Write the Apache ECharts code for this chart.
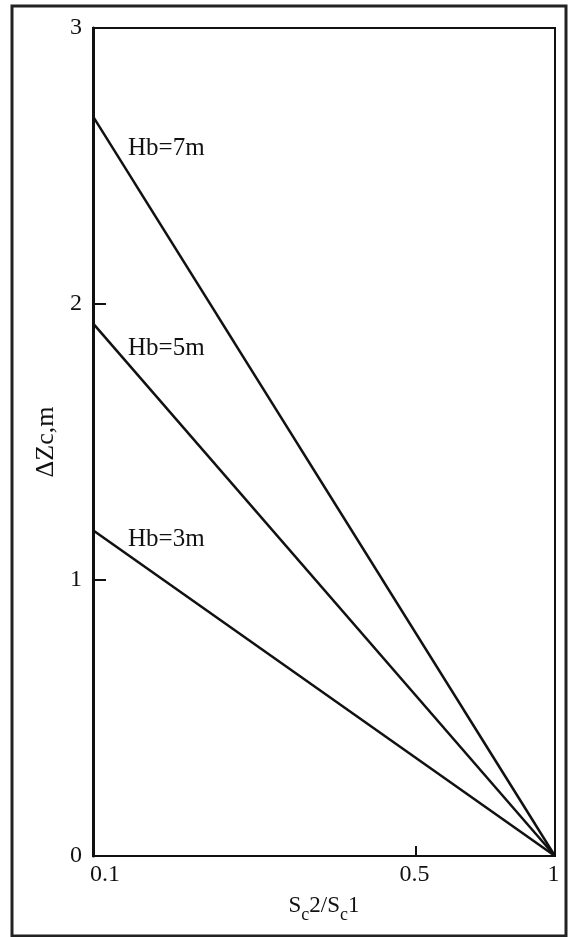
<!DOCTYPE html>
<html>
<head>
<meta charset="utf-8">
<script src="https://cdn.jsdelivr.net/npm/echarts@6/dist/echarts.min.js"></script>
<style>
  html, body { margin: 0; padding: 0; background: #fff; }
  #chart { width: 568px; height: 937px; }
</style>
</head>
<body>
<div id="chart"></div>
<script>
// Ratio Sc2/Sc1 at the two ends of each line (log axis)
const ratioValues = [0.1, 1];
// Channel-bed lowering ΔZc (m) for each breakwater height
const seriesNames = ['Hb=7m', 'Hb=5m', 'Hb=3m'];
const dzHb7 = [2.68, 0];
const dzHb5 = [1.93, 0];
const dzHb3 = [1.18, 0];
// Tick labels
const xTickValues = [0.1, 0.5, 1];
const yTickValues = [0, 1, 2, 3];

const serif = '"Liberation Serif", "DejaVu Serif", serif';
const ink = '#111';

function pairs(ys) {
  return ratioValues.map((x, i) => [x, ys[i]]);
}

const chart = echarts.init(document.getElementById('chart'), null, { renderer: 'canvas' });

const option = {
  backgroundColor: '#fff',
  animation: false,
  grid: {
    left: 93, right: 13, top: 28, bottom: 81,
    show: true, borderColor: ink, borderWidth: 2, backgroundColor: 'transparent'
  },
  xAxis: {
    type: 'log',
    logBase: 10,
    min: 0.1,
    max: 1,
    axisLine: { show: true, lineStyle: { color: ink, width: 2 } },
    axisTick: { show: true, inside: true, length: 10, lineStyle: { color: ink, width: 2 }, customValues: [0.5] },
    axisLabel: {
      show: true, color: ink, fontFamily: serif, fontSize: 24, margin: 7,
      customValues: xTickValues,
      alignMinLabel: 'left',
      padding: [0, 0, 0, -3],
      formatter: v => String(+v.toFixed(2))
    },
    minorTick: { show: false },
    splitLine: { show: false },
    name: '{t|S}{s|c}{t|2/S}{s|c}{t|1}',
    nameLocation: 'middle',
    nameGap: 38,
    nameTextStyle: {
      rich: {
        t: { fontFamily: serif, fontSize: 23, color: ink, lineHeight: 30, verticalAlign: 'top' },
        s: { fontFamily: serif, fontSize: 18, color: ink, lineHeight: 30, verticalAlign: 'bottom' }
      }
    }
  },
  yAxis: {
    type: 'value',
    min: 0,
    max: 3,
    interval: 1,
    axisLine: { show: true, lineStyle: { color: ink, width: 3 } },
    axisTick: { show: true, inside: true, length: 13, lineStyle: { color: ink, width: 2 } },
    axisLabel: {
      color: ink, fontFamily: serif, fontSize: 24, margin: 11,
      customValues: yTickValues
    },
    splitLine: { show: false },
    name: 'ΔZc,m',
    nameLocation: 'middle',
    nameGap: 22,
    nameRotate: 90,
    nameTextStyle: { fontFamily: serif, fontSize: 26, color: ink }
  },
  series: [dzHb7, dzHb5, dzHb3].map((ys, i) => ({
    name: seriesNames[i],
    type: 'line',
    data: pairs(ys),
    showSymbol: false,
    symbol: 'none',
    lineStyle: { color: ink, width: 2.5 },
    silent: true
  }))
};

chart.setOption(option);

// Line labels placed next to the left end of each line, plus the outer frame
const labelOffsets = [[35, 32], [35, 25], [35, 9]];
const starts = [dzHb7, dzHb5, dzHb3];
const labelGraphics = starts.map((ys, i) => {
  const p = chart.convertToPixel({ gridIndex: 0 }, [ratioValues[0], ys[0]]);
  return {
    type: 'text',
    x: p[0] + labelOffsets[i][0],
    y: p[1] + labelOffsets[i][1],
    style: {
      text: seriesNames[i],
      fontFamily: serif, fontSize: 25, fill: ink,
      textAlign: 'left', textVerticalAlign: 'middle'
    },
    z: 10
  };
});

chart.setOption({
  graphic: [
    {
      type: 'rect',
      shape: { x: 12, y: 6, width: 554, height: 930 },
      style: { fill: 'none', stroke: '#222', lineWidth: 3 },
      z: 0
    }
  ].concat(labelGraphics)
});
</script>
</body>
</html>
